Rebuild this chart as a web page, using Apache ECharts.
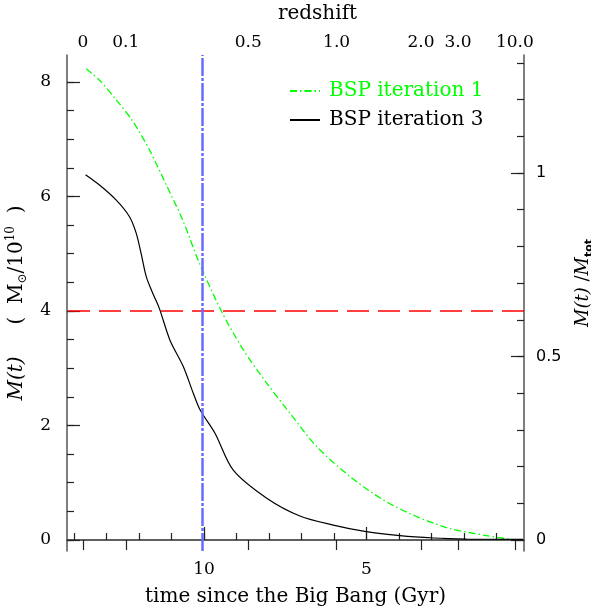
<!DOCTYPE html>
<html>
<head>
<meta charset="utf-8">
<script src="https://cdn.jsdelivr.net/npm/echarts@6/dist/echarts.min.js"></script>
<style>html,body{margin:0;padding:0;background:#fff}#c{width:591px;height:613px}</style>
</head>
<body>
<div id="c"></div>
<script>
// ---- data ----
const iter1Time = [13.63, 13.22, 12.71, 12.19, 11.68, 11.17, 10.66, 10.14, 9.46, 8.79, 8.07, 7.35, 6.53, 5.51, 4.48, 3.46, 2.43, 1.41, 0.69, 0.52];
const iter1Mass = [8.23, 8.03, 7.69, 7.31, 6.81, 6.21, 5.59, 4.83, 3.99, 3.32, 2.74, 2.21, 1.63, 1.11, 0.70, 0.41, 0.20, 0.087, 0.02, 0.01];
const iter3Time = [13.65, 13.22, 12.71, 12.30, 12.09, 11.94, 11.78, 11.58, 11.38, 11.05, 10.64, 10.33, 10.12, 9.66, 9.10, 8.07, 7.05, 6.02, 5.01, 3.97, 2.94, 1.92, 0.18];
const iter3Mass = [6.38, 6.20, 5.94, 5.65, 5.36, 5.01, 4.60, 4.31, 4.05, 3.49, 3.03, 2.56, 2.27, 1.86, 1.22, 0.73, 0.42, 0.26, 0.145, 0.075, 0.035, 0.017, 0.01];
const seriesNames = ['BSP iteration 1', 'BSP iteration 3'];
const refMass = 4;          // horizontal dashed line
const refTime = 10.07;      // vertical dash-dot line
const totalMass = 6.41;     // M_tot for right axis

const timeMinorTicks = [1,2,3,4,5,6,7,8,9,10,11,12,13,14];
const timeMajorTicks = [10, 5];
const massMinorTicks = [0,0.5,1,1.5,2,2.5,3,3.5,4,4.5,5,5.5,6,6.5,7,7.5,8];
const massMajorTicks = [0, 2, 4, 6, 8];
const fracMinorTicks = [0,0.1,0.2,0.3,0.4,0.5,0.6,0.7,0.8,0.9,1.0,1.1,1.2,1.3];
const fracMajorTicks = [0, 0.5, 1];
const redshiftAges = [13.73, 12.41, 8.64, 5.92, 3.32, 2.18, 0.43];
const redshiftLabels = ['0', '0.1', '0.5', '1.0', '2.0', '3.0', '10.0'];

const xMin = 0.15, xMax = 14.22;
const yMin = -0.192, yMax = 8.47;

const SERIF = '"DejaVu Serif", "Liberation Serif", serif';
const SANS = '"DejaVu Sans", "Liberation Sans", sans-serif';
const FRAME = '#555';
const TICK = '#222';

function xa(o) {
  return Object.assign({
    type: 'value', inverse: true, min: xMin, max: xMax, gridIndex: 0,
    splitLine: {show: false}, axisLine: {show: false},
    axisTick: {show: false}, axisLabel: {show: false}
  }, o);
}
function ya(o) {
  return Object.assign({
    type: 'value', gridIndex: 0,
    splitLine: {show: false}, axisLine: {show: false},
    axisTick: {show: false}, axisLabel: {show: false}
  }, o);
}

const chart = echarts.init(document.getElementById('c'), null, {renderer: 'canvas'});
chart.setOption({
  animation: false,
  backgroundColor: '#fff',
  grid: {left: 67, right: 67, top: 55, bottom: 62, containLabel: false, outerBoundsMode: 'none'},
  legend: {
    orient: 'vertical', left: 284, top: 76, itemWidth: 30, itemHeight: 14, itemGap: 9,
    itemStyle: {opacity: 0},
    textStyle: {fontFamily: SERIF, fontSize: 20, padding: [0, 0, 0, 4]},
    data: [
      {name: seriesNames[0], textStyle: {color: '#00ff00'}},
      {name: seriesNames[1], textStyle: {color: '#000'}}
    ]
  },
  xAxis: [
    xa({position: 'bottom',
        axisLine: {show: true, lineStyle: {color: FRAME, width: 1.5}},
        axisTick: {show: true, inside: true, length: 7, customValues: timeMinorTicks, lineStyle: {color: TICK, width: 1.2}}}),
    xa({position: 'bottom',
        axisTick: {show: true, inside: true, length: 13, customValues: timeMajorTicks, lineStyle: {color: TICK, width: 1.2}},
        axisLabel: {show: true, customValues: timeMajorTicks, margin: 10, color: '#000', fontFamily: SERIF, fontSize: 17},
        name: 'time since the Big Bang (Gyr)', nameLocation: 'middle', nameGap: 36,
        nameTextStyle: {color: '#000', fontFamily: SERIF, fontSize: 20}}),
    xa({position: 'top',
        axisLine: {show: true, lineStyle: {color: FRAME, width: 1.5}},
        axisTick: {show: true, inside: true, length: 10, customValues: redshiftAges, lineStyle: {color: TICK, width: 1.2}},
        axisLabel: {show: true, customValues: redshiftAges, margin: 4, color: '#000', fontFamily: SERIF, fontSize: 17,
          formatter: function (v) {
            let best = 0, d = 1e9;
            redshiftAges.forEach(function (a, i) { if (Math.abs(a - v) < d) { d = Math.abs(a - v); best = i; } });
            return redshiftLabels[best];
          }},
        name: 'redshift', nameLocation: 'middle', nameGap: 31,
        nameTextStyle: {color: '#000', fontFamily: SERIF, fontSize: 20, padding: [0, 0, 0, 44]}})
  ],
  yAxis: [
    ya({position: 'left', min: yMin, max: yMax,
        axisLine: {show: true, lineStyle: {color: FRAME, width: 1.5}},
        axisTick: {show: true, inside: true, length: 7, customValues: massMinorTicks, lineStyle: {color: TICK, width: 1.2}}}),
    ya({position: 'left', min: yMin, max: yMax,
        axisTick: {show: true, inside: true, length: 13, customValues: massMajorTicks, lineStyle: {color: TICK, width: 1.2}},
        axisLabel: {show: true, customValues: massMajorTicks, margin: 16, color: '#000', fontFamily: SERIF, fontSize: 17},
        name: '{it|M(t)}     (  M{sub|⊙}/10{sup|10}  )', nameLocation: 'middle', nameGap: 34, nameRotate: 90,
        nameTextStyle: {color: '#000', fontFamily: SERIF, fontSize: 20, lineHeight: 24, padding: [0, 0, 0, 0],
          rich: {
            it: {fontFamily: SERIF, fontStyle: 'italic', fontSize: 20, color: '#000'},
            sub: {fontFamily: SERIF, fontSize: 12, color: '#000', verticalAlign: 'bottom', lineHeight: 12},
            sup: {fontFamily: SERIF, fontSize: 12, color: '#000', verticalAlign: 'top', lineHeight: 12}
          }}}),
    ya({position: 'right', min: yMin / totalMass, max: yMax / totalMass,
        axisLine: {show: true, lineStyle: {color: FRAME, width: 1.5}},
        axisTick: {show: true, inside: true, length: 7, customValues: fracMinorTicks, lineStyle: {color: TICK, width: 1.2}}}),
    ya({position: 'right', min: yMin / totalMass, max: yMax / totalMass,
        axisTick: {show: true, inside: true, length: 13, customValues: fracMajorTicks, lineStyle: {color: TICK, width: 1.2}},
        axisLabel: {show: true, customValues: fracMajorTicks, margin: 12, color: '#000', fontFamily: SANS, fontSize: 16},
        name: '{it|M(t)} /{it|M}{sub|tot}', nameLocation: 'middle', nameGap: 37, nameRotate: 90,
        nameTextStyle: {color: '#000', fontFamily: SERIF, fontSize: 18, lineHeight: 22, padding: [0, 0, 0, 40],
          rich: {
            it: {fontFamily: SERIF, fontStyle: 'italic', fontSize: 18, color: '#000'},
            sub: {fontFamily: SANS, fontWeight: 'bold', fontSize: 11, color: '#000', verticalAlign: 'bottom', lineHeight: 11}
          }}})
  ],
  series: [
    {
      name: seriesNames[0], type: 'line', xAxisIndex: 0, yAxisIndex: 0,
      showSymbol: false, symbol: 'none', smooth: 0.3,
      lineStyle: {color: '#00ff00', width: 1.3, type: [7, 3, 1.5, 3]},
      itemStyle: {color: '#00ff00'},
      data: iter1Time.map(function (t, i) { return [t, iter1Mass[i]]; }),
      z: 3
    },
    {
      name: seriesNames[1], type: 'line', xAxisIndex: 0, yAxisIndex: 0,
      showSymbol: false, symbol: 'none', smooth: 0.3,
      lineStyle: {color: '#000', width: 1.2},
      itemStyle: {color: '#000'},
      data: iter3Time.map(function (t, i) { return [t, iter3Mass[i]]; }),
      markLine: {
        silent: true, symbol: ['none', 'none'], label: {show: false}, animation: false,
        data: [
          {yAxis: refMass, lineStyle: {color: '#ff0000', width: 1.5, type: [22, 9]}},
          {xAxis: refTime, lineStyle: {color: '#6b6bff', width: 2.5, type: [18, 2, 3, 2]}}
        ]
      },
      z: 3
    }
  ]
});
</script>
</body>
</html>
